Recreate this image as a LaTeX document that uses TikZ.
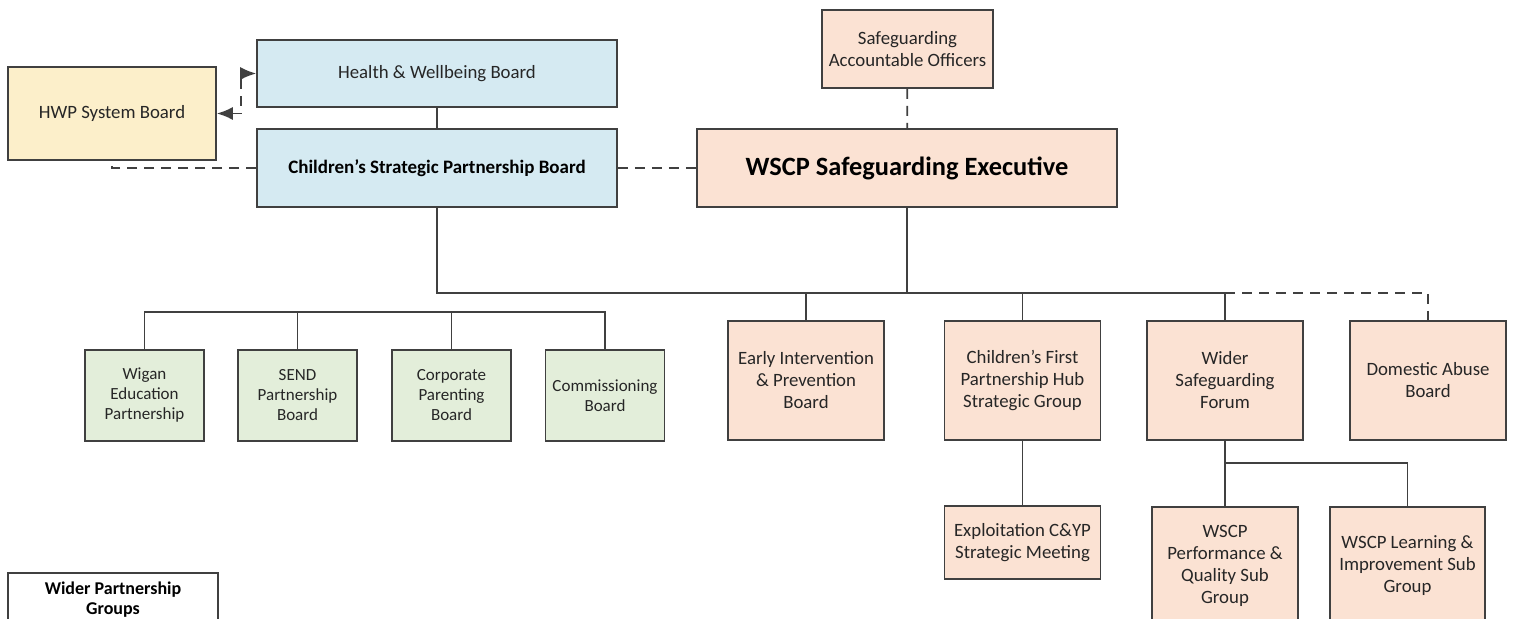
\documentclass[tikz,border=0pt]{standalone}
\usepackage{fontspec}
\setmainfont{Carlito}
\usetikzlibrary{arrows.meta}

\definecolor{hwpyellow}{HTML}{FCEFCA}
\definecolor{hwbblue}{HTML}{D5EAF2}
\definecolor{wscppeach}{HTML}{FBE2D3}
\definecolor{groupgreen}{HTML}{E3EEDA}

\tikzset{
  box/.style = {draw=black!75, line width=0.8pt, align=center, inner sep=2pt,
                text=black!85, font=\fontsize{9.4}{11}\selectfont},
  bluebox/.style = {box, fill=hwbblue, minimum width=180pt},
  peachbox/.style = {box, fill=wscppeach},
  greenbox/.style = {box, fill=groupgreen, minimum width=59.5pt, minimum height=45.5pt,
                     font=\fontsize{8.5}{10}\selectfont},
  line/.style = {draw=black!75, line width=0.9pt},
  dashedge/.style = {line, dash pattern=on 5pt off 3.5pt}
}

\begin{document}
\begin{tikzpicture}[x=0.5pt,y=-0.5pt]
		\tikzset{edge/.style = {<->,> = {Latex[length=8pt,width=6.5pt]}}}
		\useasboundingbox (0,0) rectangle (1515,619);
		\clip (0,0) rectangle (1515,619);
		\node[box, fill=hwpyellow, minimum width=104pt, minimum height=46.5pt] (A) at (112,113.5) {HWP System Board};
		\node[bluebox, minimum height=33.5pt] (B) at (437,73.5) {Health \& Wellbeing Board};
		\node[bluebox, minimum height=39pt, text=black, font=\fontsize{9.5}{11}\selectfont\bfseries] (C) at (437,168) {Children’s Strategic Partnership Board};
		\node[peachbox, minimum width=85.5pt, minimum height=39pt] (D) at (907.5,49) {Safeguarding\\Accountable Officers};
		\node[peachbox, minimum width=210pt, minimum height=39pt, text=black, font=\fontsize{13.2}{15}\selectfont\bfseries] (E) at (907,168) {WSCP Safeguarding Executive};
		\node[greenbox] (F) at (144.5,395.5) {Wigan\\Education\\Partnership};
		\node[greenbox] (G) at (297.5,395.5) {SEND\\Partnership\\Board};
		\node[greenbox] (H) at (451.5,395.5) {Corporate\\Parenting\\Board};
		\node[greenbox] (I) at (605,395.5) {Commissioning\\Board};
		\node[peachbox, minimum width=78pt, minimum height=59.5pt] (J) at (806,380.5) {Early Intervention\\\& Prevention\\Board};
		\node[peachbox, minimum width=78pt, minimum height=59.5pt] (K) at (1022.5,380.5) {Children’s First\\Partnership Hub\\Strategic Group};
		\node[peachbox, minimum width=78pt, minimum height=59.5pt] (L) at (1225,380.5) {Wider\\Safeguarding\\Forum};
		\node[peachbox, minimum width=78pt, minimum height=59.5pt] (M) at (1428,380.5) {Domestic Abuse\\Board};
		\node[peachbox, minimum width=78pt, minimum height=36.5pt] (N) at (1022.5,542.5) {Exploitation C\&YP\\Strategic Meeting};
		\node[peachbox, anchor=north, minimum width=73pt, minimum height=59pt] (O) at (1225,506) {WSCP\\Performance \&\\Quality Sub\\Group};
		\node[peachbox, anchor=north, minimum width=77.5pt, minimum height=59pt] (P) at (1407.5,506) {WSCP Learning \&\\Improvement Sub\\Group};
		\node[box, fill=white, anchor=north, minimum width=105pt, minimum height=27pt, text=black, font=\fontsize{9}{10}\selectfont\bfseries] (Q) at (113,572) {Wider Partnership\\Groups};
		\coordinate (bus) at (0,293);
		\coordinate (gbus) at (0,312);
		\coordinate (sbus) at (0,463);
		\coordinate (k) at (241,0);
		\draw[line] (B) -- (C);
		\draw[line] (C) -- (C |- bus) -| (L);
		\draw[line] (E) -- (E |- bus);
		\draw[line] (J) -- (J |- bus);
		\draw[line] (K) -- (K |- bus);
		\draw[dashedge] (L |- bus) -| (M);
		\draw[line] (F) -- (F |- gbus) -- (I |- gbus) -- (I);
		\draw[line] (G) -- (G |- gbus);
		\draw[line] (H) -- (H |- gbus);
		\draw[line] (K) -- (N);
		\draw[line] (L) -- (O);
		\draw[line] (L |- sbus) -| (P);
		\draw[dashedge] (C.west) -| (A.south);
		\draw[dashedge] (C) -- (E);
		\draw[dashedge] (D) -- (E);
		\draw[dashedge, edge] (A.east) -- (A.east -| k) -- (k |- B.west) -- (B.west);
	\end{tikzpicture}
\end{document}
